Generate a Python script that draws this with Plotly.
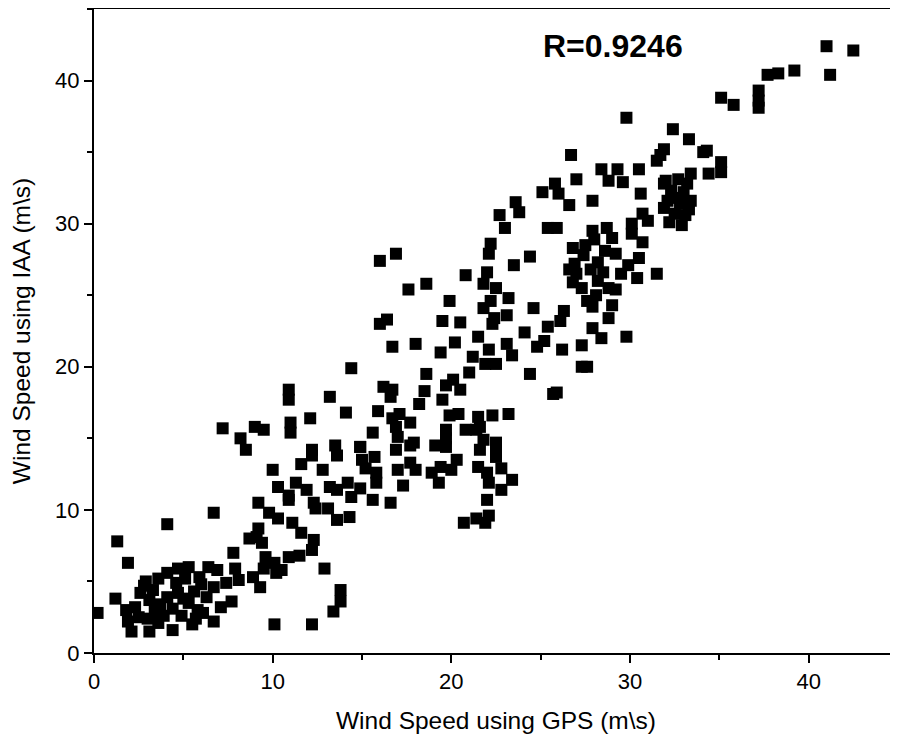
import plotly.graph_objects as go

# wind speed (GPS on x, IAA on y), m/s
gps = [
    0.2, 1.3, 1.9, 4.1, 6.7, 10.1,
    1.2, 1.8, 1.9, 2.1, 3.1, 3.6, 4.4, 5.5, 6.7,
    2.8, 2.6, 3.1, 3.7, 3.6, 4.1, 4.7, 5.3, 4.6, 4.1, 4.7, 5.3, 5.6, 5.8, 6.3, 6.7, 6.4, 6.9, 7.4, 7.7, 7.8, 7.9, 8.1,
    2.3, 3.3, 3.9, 4.9, 5.1, 5.9, 6.1, 2.5, 3.4, 5.0, 6.0, 7.1, 2.9, 4.4, 3.0, 5.7,
    8.9, 9.3, 9.1, 9.2, 8.7, 9.4, 9.6, 9.5, 10.1, 10.2, 10.9, 11.5, 9.2, 9.8, 10.3, 11.1, 10.0, 10.3, 10.9, 11.3, 8.2, 8.5,
    7.2, 9.0, 9.5, 10.9, 10.9, 11.0, 11.0,
    20.7, 21.4, 12.9, 13.8, 13.8, 13.4, 12.2,
    15.6, 16.6, 13.6, 14.3, 13.1, 12.4,
    11.6, 12.3, 12.2, 10.5,
    12.2, 11.6, 12.8, 11.9, 12.3, 10.9, 13.2, 13.6, 14.2, 14.4, 14.9, 13.5, 13.6, 14.9, 15.0, 15.7, 15.2, 15.8, 15.8,
    16.9, 17.0, 17.3, 17.7, 18.0, 17.7, 18.9, 19.3, 19.4, 19.1, 19.7, 20.0, 20.3,
    21.6, 22.5, 22.5, 21.5, 22.0, 22.8, 23.4, 22.8, 22.1, 22.0, 21.9, 22.1,
    16.0, 16.9, 17.6, 18.6, 20.8, 19.9, 16.0, 16.4, 19.5, 20.5, 16.7, 18.0, 19.4, 20.2, 21.2,
    14.4, 18.6, 21.0, 13.2, 16.2, 16.7, 16.6, 18.5, 19.7, 20.1, 20.5, 19.5, 18.2, 14.1, 15.9, 12.1,
    16.7, 17.1, 17.7, 19.9, 20.4, 19.7, 20.8, 21.4, 16.9, 17.0, 15.6, 14.9, 12.2, 17.9, 19.7,
    22.2, 22.1, 24.4, 23.5, 22.0, 21.8, 22.5, 22.2, 23.2, 21.8, 23.1, 22.4, 22.3, 21.5,
    24.6, 26.3, 26.1, 25.4, 24.1, 25.2, 24.8, 23.1, 22.1, 23.4, 21.9, 22.5, 26.2, 24.4, 25.9, 25.7,
    27.3, 27.9, 28.4, 28.8, 29.8, 27.3, 27.6,
    26.8, 27.5, 31.5, 30.4, 29.9, 30.5, 30.7, 30.1,
    27.6, 28.1, 29.2, 26.8, 27.3, 26.9, 28.2, 28.6, 29.2, 28.2, 28.8,
    27.0, 27.8, 28.5, 27.4, 28.0, 29.0, 26.6, 29.5, 27.9, 29.0,
    21.5, 22.3, 23.2, 21.6, 21.8, 22.5,
    29.8, 32.4, 31.9, 31.5, 31.7, 26.7, 28.4, 29.3, 28.8, 29.6, 30.5, 27.0, 25.8, 26.0, 25.1, 27.9, 26.6,
    23.6, 23.8, 22.7, 23.0, 25.4, 25.9, 30.6, 31.9, 27.9, 28.7, 30.7, 31.0, 30.1, 31.9, 32.4,
    41.0, 42.5, 41.2, 39.2, 38.3, 37.7, 37.2, 37.2, 37.2, 35.1, 35.8,
    33.3, 34.1, 34.3, 35.1, 35.1, 34.4, 33.4,
    32.0, 32.7, 33.2, 32.3, 33.0, 32.1, 32.8, 33.4, 32.5, 33.1, 32.2, 32.9, 33.3,
]
iaa = [
    2.8, 7.8, 6.3, 9.0, 9.8, 2.0,
    3.8, 3.0, 2.2, 1.5, 1.5, 2.1, 1.6, 2.0, 2.2,
    4.7, 4.2, 3.7, 3.4, 5.2, 5.6, 5.9, 6.0, 4.9, 3.9, 4.2, 3.5, 4.3, 3.0, 3.9, 4.6, 6.0, 5.8, 4.9, 3.6, 7.0, 5.9, 5.1,
    3.2, 4.4, 2.6, 2.6, 5.2, 5.3, 2.8, 2.5, 2.9, 3.8, 4.8, 3.2, 5.0, 3.1, 2.4, 2.4,
    5.3, 4.6, 8.1, 8.7, 8.0, 7.7, 6.7, 5.9, 6.3, 5.6, 6.7, 6.8, 10.5, 9.8, 9.4, 9.1, 12.8, 11.6, 11.0, 11.9, 15.0, 14.2,
    15.7, 15.8, 15.6, 18.4, 17.7, 16.1, 15.4,
    9.1, 9.4, 5.9, 4.4, 3.6, 2.9, 2.0,
    10.7, 10.5, 9.3, 9.5, 10.1, 10.1,
    8.4, 7.9, 7.2, 5.8,
    13.8, 13.2, 12.8, 11.4, 10.5, 10.7, 11.6, 11.4, 11.9, 10.9, 11.5, 14.5, 13.8, 14.4, 13.5, 13.7, 12.9, 12.6, 11.9,
    14.2, 12.8, 11.7, 13.3, 12.8, 14.5, 12.6, 11.9, 13.0, 14.5, 14.4, 12.8, 13.5,
    14.2, 14.5, 13.7, 13.0, 12.6, 12.9, 12.1, 11.4, 11.9, 10.7, 9.1, 9.6,
    27.4, 27.9, 25.4, 25.8, 26.4, 24.6, 23.0, 23.3, 23.2, 23.1, 21.4, 21.6, 21.0, 21.7, 20.7,
    19.9, 19.5, 19.6, 17.9, 18.6, 18.4, 17.9, 18.3, 18.7, 19.1, 18.4, 17.7, 17.4, 16.8, 16.9, 16.4,
    16.4, 16.7, 16.1, 16.6, 16.7, 15.6, 15.6, 15.6, 15.8, 15.1, 15.4, 14.4, 14.2, 14.7, 15.0,
    28.6, 27.9, 27.7, 27.1, 26.6, 25.8, 25.5, 24.6, 24.8, 24.1, 23.6, 23.4, 23.0, 22.1,
    24.1, 23.9, 23.2, 22.8, 22.4, 21.8, 21.4, 21.6, 21.2, 20.8, 20.2, 20.2, 21.2, 19.5, 18.2, 18.1,
    21.5, 22.7, 22.0, 23.4, 22.1, 20.0, 20.0,
    28.3, 28.5, 26.5, 26.2, 27.1, 27.6, 28.7, 29.3,
    24.6, 25.0, 25.4, 25.9, 25.5, 27.2, 27.3, 28.1, 27.9, 26.0, 25.5,
    26.5, 26.8, 26.6, 27.8, 28.9, 29.0, 26.8, 26.5, 24.2, 24.3,
    16.5, 16.6, 16.7, 15.8, 14.9, 14.7,
    37.4, 36.6, 35.2, 34.4, 34.8, 34.8, 33.8, 33.8, 33.0, 32.9, 33.8, 33.1, 32.8, 32.1, 32.2, 31.6, 31.3,
    31.5, 30.8, 30.6, 29.7, 29.7, 29.7, 32.1, 32.8, 29.5, 29.7, 30.7, 30.2, 30.0, 31.1, 31.8,
    42.4, 42.1, 40.4, 40.7, 40.5, 40.4, 39.3, 38.6, 38.1, 38.8, 38.3,
    35.9, 35.0, 35.1, 34.3, 33.6, 33.5, 33.5,
    33.0, 33.1, 32.8, 32.3, 32.2, 31.6, 31.4, 31.6, 30.7, 30.6, 30.1, 29.9, 31.0,
]
r_label = "R=0.9246"

font = "Liberation Sans, Arial, sans-serif"

fig = go.Figure(go.Scatter(
    x=gps, y=iaa, mode="markers",
    marker=dict(symbol="square", size=12, color="black", line=dict(width=0)),
))

axis = dict(
    showgrid=False, zeroline=False, automargin=False,
    showline=True, linecolor="black", linewidth=2, mirror=True,
    ticks="outside", ticklen=8, tickwidth=2, tickcolor="black",
    tick0=0, dtick=10,
    minor=dict(ticks="outside", ticklen=5, tickwidth=2, tickcolor="black", dtick=5),
    tickfont=dict(family=font, size=22, color="black"),
    range=[0, 45],
)

# page body adds an 8px margin, so the figure is sized to fit the window
fig.update_layout(
    width=890, height=739,
    margin=dict(l=86, r=0, t=1, b=94),
    plot_bgcolor="white", paper_bgcolor="white",
    showlegend=False,
    xaxis=dict(axis, title=dict(text="Wind Speed using GPS (m\\s)",
                                font=dict(family=font, size=24.5, color="black"), standoff=18)),
    yaxis=dict(axis, title=dict(text="Wind Speed using IAA (m\\s)",
                                font=dict(family=font, size=24.5, color="black"), standoff=20)),
)

fig.add_annotation(
    x=25, y=42.4, xref="x", yref="y", xanchor="left", yanchor="middle",
    text="<b>%s</b>" % r_label, showarrow=False,
    font=dict(family=font, size=32, color="black"),
)

fig.write_html("out.html")
